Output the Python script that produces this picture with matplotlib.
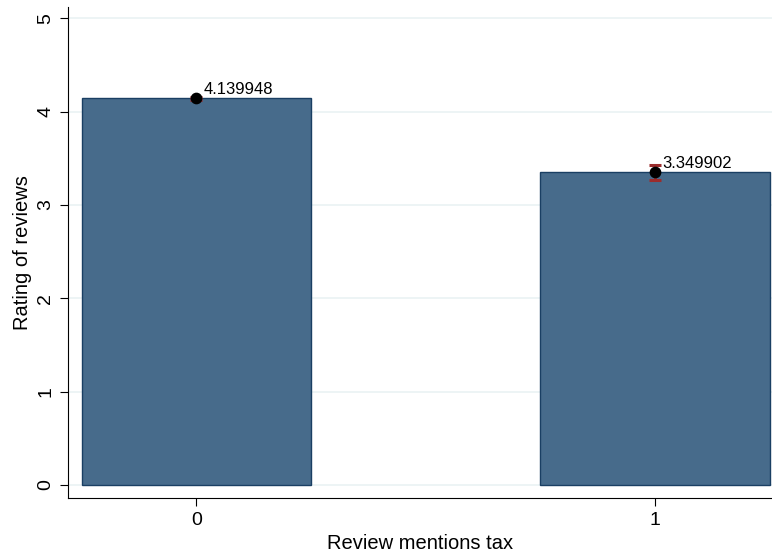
import matplotlib
matplotlib.use("Agg")
import matplotlib.pyplot as plt

# ---- data ----
groups = [0, 1]
means = [4.139948, 3.349902]
ci_low = [4.125, 3.27]
ci_high = [4.155, 3.43]
labels = ["4.139948", "3.349902"]

plt.rcParams["font.family"] = ["Liberation Sans", "DejaVu Sans"]

fig = plt.figure(figsize=(7.72, 5.54), dpi=100)
ax = fig.add_axes([68 / 772, 56 / 554, 704 / 772, 491 / 554])

ax.bar(groups, means, width=0.5, color="#476b8b", edgecolor="#1a3f63",
       linewidth=1.0, zorder=2)

err_lo = [m - l for m, l in zip(means, ci_low)]
err_hi = [h - m for m, h in zip(means, ci_high)]
ax.errorbar(groups, means, yerr=[err_lo, err_hi], fmt="none",
            ecolor="#9b2c2c", elinewidth=2, capsize=4.3, capthick=2.2, zorder=3)
ax.scatter(groups, means, s=55, color="black", zorder=4)

for g, m, t in zip(groups, means, labels):
    ax.annotate(t, (g, m), xytext=(5, 1), textcoords="offset points",
                ha="left", va="bottom", fontsize=12, zorder=5)

ax.set_xlim(-0.28, 1.255)
ax.set_ylim(-0.14, 5.12)
ax.set_xticks(groups)
ax.set_yticks([0, 1, 2, 3, 4, 5])
ax.set_yticklabels(["0", "1", "2", "3", "4", "5"], rotation=90, va="center")
ax.tick_params(axis="both", labelsize=14, length=6, width=0.8, color="black", pad=4)
ax.grid(axis="y", color="#eaf2f3", linewidth=1.2, zorder=0)
ax.set_axisbelow(True)

for side in ["top", "right"]:
    ax.spines[side].set_visible(False)

ax.set_xlabel("Review mentions tax", fontsize=14.5, labelpad=4)
ax.set_ylabel("Rating of reviews", fontsize=14.5, labelpad=4)

fig.savefig("out.png", dpi=100)
